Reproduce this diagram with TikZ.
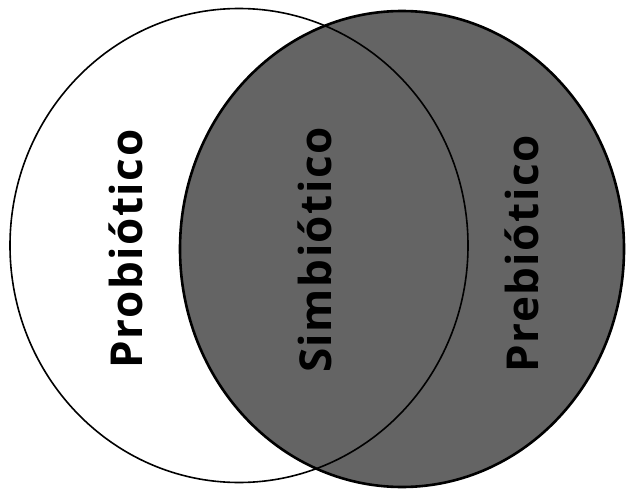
\documentclass[tikz,border=0pt]{standalone}
\usepackage{fontspec}
\setsansfont{Open Sans}
\newfontfamily\setfont[LetterSpace=3.5]{Open Sans}
\usetikzlibrary{positioning}
\definecolor{grainy}{RGB}{100,100,100}
\tikzset{
	setlabel/.style={rotate=90, inner sep=0pt, text=black, font=\setfont\bfseries\fontsize{44}{44}\selectfont},
	ring/.style={draw=black, line width=1.6pt},
}

\begin{document}
\begin{tikzpicture}[x=1pt, y=-1pt]
	\useasboundingbox (0,0) rectangle (628,489);
	% prebiotic set (shaded) under the probiotic outline
	\filldraw[ring, fill=grainy, line width=2.6pt] (402,249) ellipse [x radius=222, y radius=238];
	\draw[ring] (239,245.5) ellipse [x radius=229, y radius=237];
	\node[setlabel] (probio) at (126,249) {Probiótico};
	\node[setlabel] (simbio) at (315,250) {Simbiótico};
	\node[setlabel] (prebio) at (522,254) {Prebiótico};
\end{tikzpicture}
\end{document}
